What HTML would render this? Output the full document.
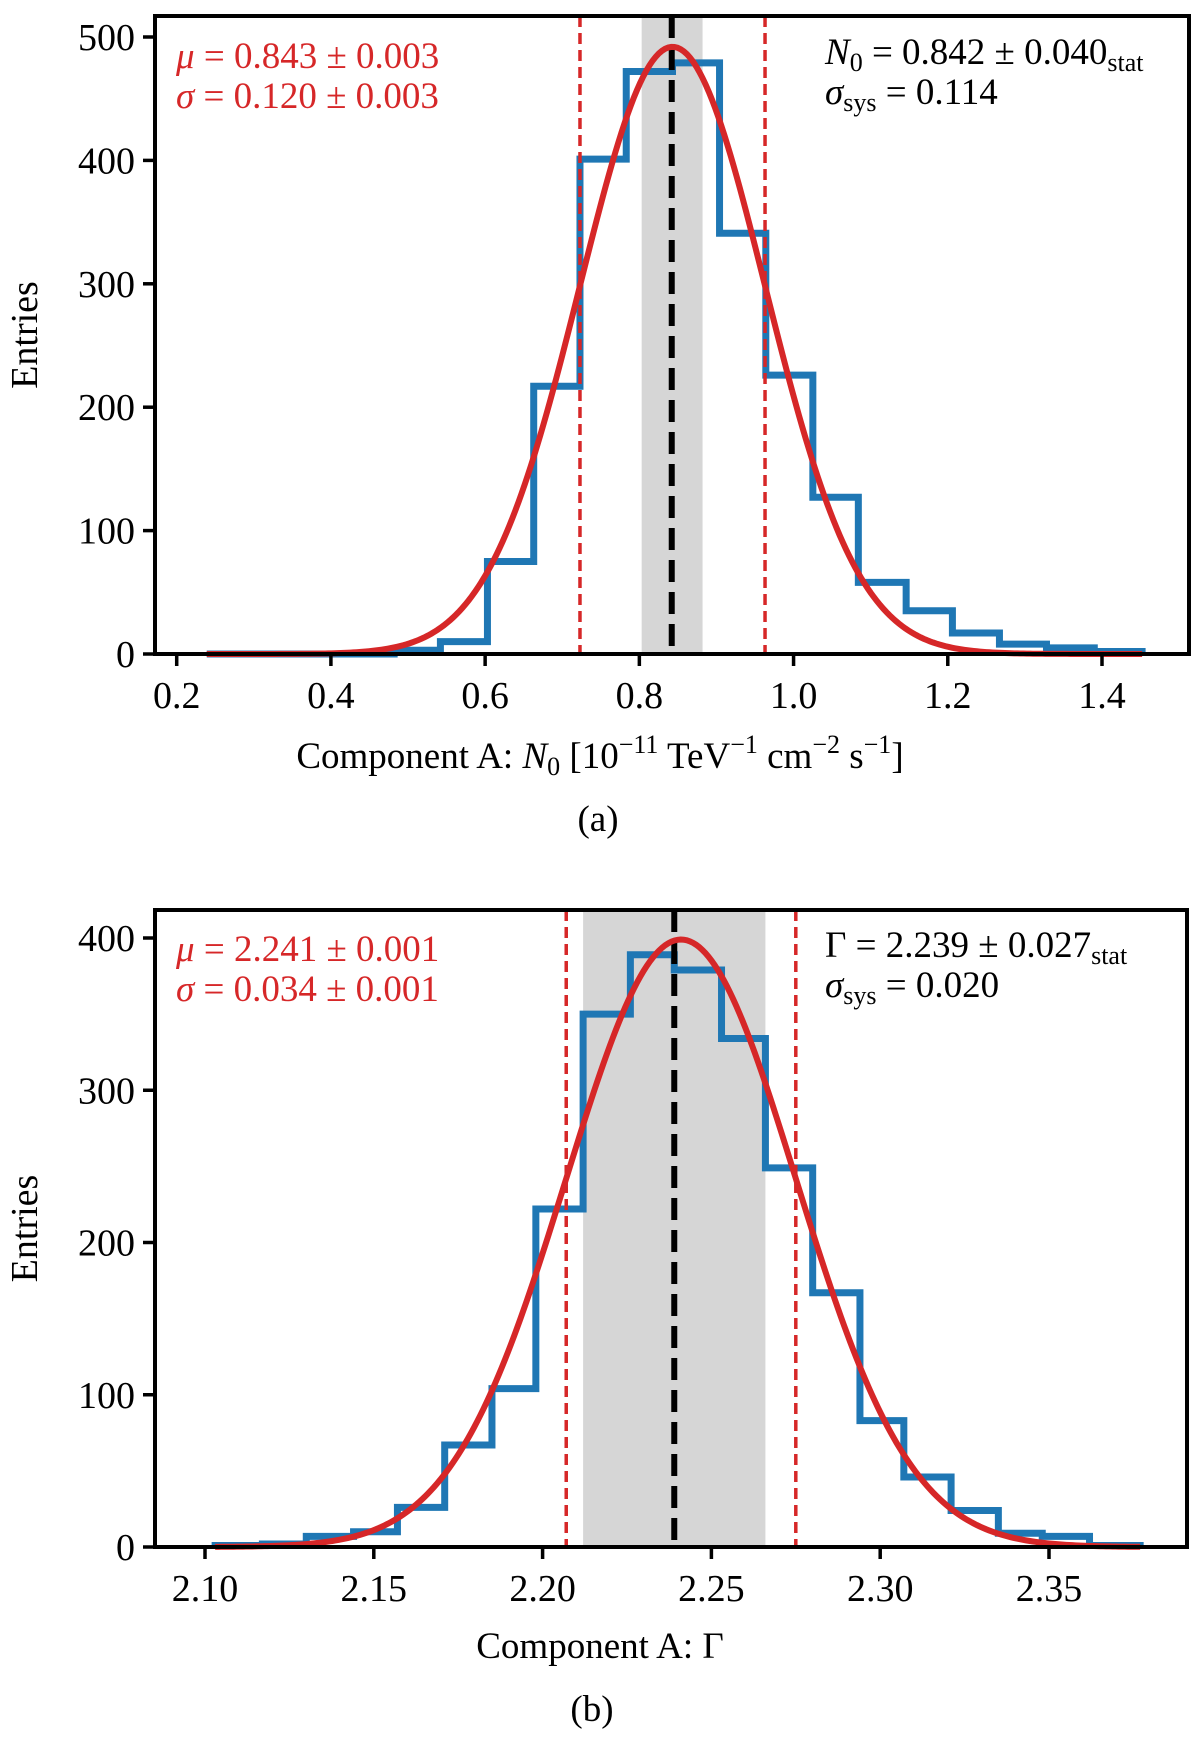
<!DOCTYPE html>
<html><head><meta charset="utf-8"><style>
html,body{margin:0;padding:0;background:#fff;}
svg{display:block;font-family:"Liberation Serif",serif;}
</style></head><body>
<svg id="fig" width="1200" height="1745" viewBox="0 0 1200 1745"></svg>
<script>
// Panel (a) data
const aEdges = [0.239,0.300,0.360,0.421,0.482,0.542,0.603,0.663,0.723,0.783,0.843,0.904,0.964,1.025,1.084,1.146,1.206,1.267,1.328,1.390,1.452];
const aCounts = [0,0,0,0,3,10,75,217,401,472,479,341,226,127,58,35,17,8,5,2];
const aXTicks = [0.2,0.4,0.6,0.8,1.0,1.2,1.4];
const aXTickLabels = ["0.2","0.4","0.6","0.8","1.0","1.2","1.4"];
const aYTicks = [0,100,200,300,400,500];
const aFit = [0.843,0.120,492];   // mu, sigma, amplitude
const aBand = [0.803,0.882];
const aCentral = [0.842];
const aSigLines = [0.723,0.963];
// Panel (b) data
const bEdges = [2.103,2.117,2.130,2.144,2.157,2.171,2.185,2.198,2.212,2.226,2.239,2.253,2.266,2.280,2.294,2.307,2.321,2.335,2.348,2.362,2.377];
const bCounts = [1,2,7,10,26,67,104,222,350,389,379,334,249,167,83,46,24,9,7,1];
const bXTicks = [2.10,2.15,2.20,2.25,2.30,2.35];
const bXTickLabels = ["2.10","2.15","2.20","2.25","2.30","2.35"];
const bYTicks = [0,100,200,300,400];
const bFit = [2.241,0.034,399];
const bBand = [2.212,2.266];
const bCentral = [2.239];
const bSigLines = [2.207,2.275];

const NS="http://www.w3.org/2000/svg";
const svg=document.getElementById('fig');
function mk(tag,attrs,parent){const e=document.createElementNS(NS,tag);for(const k in attrs)e.setAttribute(k,attrs[k]);(parent||svg).appendChild(e);return e;}

function panel(cfg){
  const g=mk('g',{});
  
  
  const X=v=>cfg.x0px+(v-cfg.x0)*(cfg.x1px-cfg.x0px)/(cfg.x1-cfg.x0);
  const Y=v=>cfg.y0px+(v)*(cfg.y1px-cfg.y0px)/cfg.y1;
  const L=cfg.left,R=cfg.right,T=cfg.top,B=cfg.y0px;
  const band=mk('rect',{x:X(cfg.band[0]),y:T,width:X(cfg.band[1])-X(cfg.band[0]),height:B-T,fill:'#d6d6d6'},g);
  
  
  let d='M'+X(cfg.edges[0])+','+Y(0);
  for(let i=0;i<cfg.counts.length;i++){d+=' L'+X(cfg.edges[i])+','+Y(cfg.counts[i])+' L'+X(cfg.edges[i+1])+','+Y(cfg.counts[i]);}
  d+=' L'+X(cfg.edges[cfg.edges.length-1])+','+Y(0);
  const h=mk('path',{d:d,fill:'none',stroke:'#1f77b4','stroke-width':7,'stroke-linejoin':'miter'},g);
  
  
  cfg.sig.forEach(v=>{const l=mk('line',{x1:X(v),x2:X(v),y1:T,y2:B,stroke:'#d62728','stroke-width':3.5,'stroke-dasharray':'11,6'},g);
    
    });
  const c=mk('line',{x1:X(cfg.central[0]),x2:X(cfg.central[0]),y1:T,y2:B,stroke:'#000','stroke-width':6,'stroke-dasharray':'22,10'},g);
  
  
  const [mu,s,A]=cfg.fit;let fd='';
  const xa=cfg.edges[0],xb=cfg.edges[cfg.edges.length-1];
  for(let i=0;i<=300;i++){const x=xa+(xb-xa)*i/300;const y=A*Math.exp(-0.5*((x-mu)/s)**2);fd+=(i?' L':'M')+X(x).toFixed(2)+','+Y(y).toFixed(2);}
  const f=mk('path',{d:fd,fill:'none',stroke:'#d62728','stroke-width':6},g);
  
  
  const fr=mk('rect',{x:L,y:T,width:R-L,height:B-T,fill:'none',stroke:'#000','stroke-width':4},g);
  
  
  cfg.xticks.forEach((v,i)=>{mk('line',{x1:X(v),x2:X(v),y1:B,y2:B+12,stroke:'#000','stroke-width':3.5},g);
    const t=mk('text',{x:X(v),y:B+54,'font-size':38,'text-anchor':'middle'},g);t.textContent=cfg.xlabels[i];
    
    });
  cfg.yticks.forEach(v=>{mk('line',{x1:L-12,x2:L,y1:Y(v),y2:Y(v),stroke:'#000','stroke-width':3.5},g);
    const t=mk('text',{x:L-20,y:Y(v)+13,'font-size':38,'text-anchor':'end'},g);t.textContent=String(v);
    
    });
  const yl=mk('text',{x:0,y:0,'font-size':38,'text-anchor':'middle',transform:'translate(37,'+((T+B)/2)+') rotate(-90)'},g);
  yl.textContent='Entries';
  
  
  return {g,T,B,L,R};
}

const a=panel({name:'panel-a',left:155,right:1189,top:16,y0px:654,y1px:37,y1:500,x0:0.2,x1:1.4,x0px:176.7,x1px:1102,
  edges:aEdges,counts:aCounts,fit:aFit,band:aBand,central:aCentral,sig:aSigLines,xticks:aXTicks,xlabels:aXTickLabels,yticks:aYTicks});
const b=panel({name:'panel-b',left:155,right:1187,top:910,y0px:1547,y1px:938,y1:400,x0:2.10,x1:2.35,x0px:205,x1px:1049,
  edges:bEdges,counts:bCounts,fit:bFit,band:bBand,central:bCentral,sig:bSigLines,xticks:bXTicks,xlabels:bXTickLabels,yticks:bYTicks});
</script>
<div style="position:absolute;left:0;top:0;width:1200px;height:1745px;pointer-events:none;">
<svg width="1200" height="1745" style="position:absolute;left:0;top:0;font-family:'Liberation Serif',serif;">
  <g fill="#d62728" font-size="37">
    <text x="176" y="68"><tspan font-style="italic">μ</tspan> = 0.843 ± 0.003</text>
    <text x="176" y="108"><tspan font-style="italic">σ</tspan> = 0.120 ± 0.003</text>
  </g>
  <g fill="#000" font-size="37">
    <text x="825" y="64"><tspan font-style="italic">N</tspan><tspan font-size="26" dy="7">0</tspan><tspan dy="-7"> = 0.842 ± 0.040</tspan><tspan font-size="26" dy="7">stat</tspan></text>
    <text x="825" y="104"><tspan font-style="italic">σ</tspan><tspan font-size="26" dy="7">sys</tspan><tspan dy="-7"> = 0.114</tspan></text>
  </g>
  <text x="600" y="768" font-size="37" text-anchor="middle">Component A: <tspan font-style="italic">N</tspan><tspan font-size="26" dy="7">0</tspan><tspan dy="-7"> [10</tspan><tspan font-size="26" dy="-15">−11</tspan><tspan dy="15"> TeV</tspan><tspan font-size="26" dy="-15">−1</tspan><tspan dy="15"> cm</tspan><tspan font-size="26" dy="-15">−2</tspan><tspan dy="15"> s</tspan><tspan font-size="26" dy="-15">−1</tspan><tspan dy="15">]</tspan></text>
  <text x="598" y="831" font-size="37" text-anchor="middle">(a)</text>
  <g fill="#d62728" font-size="37">
    <text x="176" y="961"><tspan font-style="italic">μ</tspan> = 2.241 ± 0.001</text>
    <text x="176" y="1001"><tspan font-style="italic">σ</tspan> = 0.034 ± 0.001</text>
  </g>
  <g fill="#000" font-size="37">
    <text x="825" y="957">Γ = 2.239 ± 0.027<tspan font-size="26" dy="7">stat</tspan></text>
    <text x="825" y="997"><tspan font-style="italic">σ</tspan><tspan font-size="26" dy="7">sys</tspan><tspan dy="-7"> = 0.020</tspan></text>
  </g>
  <text x="600" y="1658" font-size="37" text-anchor="middle">Component A: Γ</text>
  <text x="592" y="1721" font-size="37" text-anchor="middle">(b)</text>
</svg>
</div>
</body></html>
